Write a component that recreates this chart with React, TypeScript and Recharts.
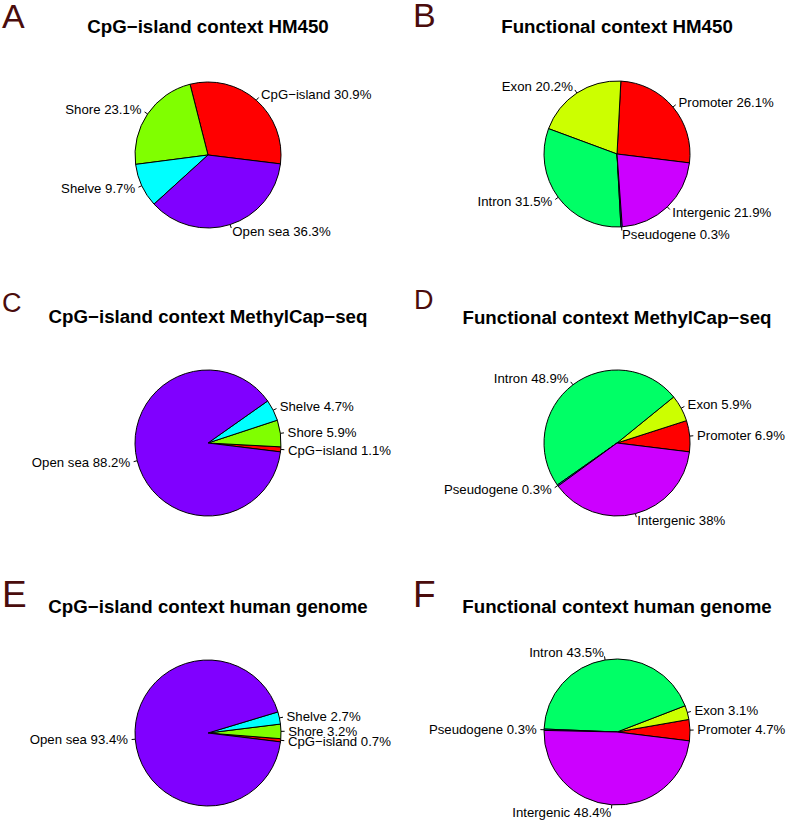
import React from 'react';
import { PieChart, Pie, Cell } from 'recharts';

// slice names and percentages
const cpgLabels = ['CpG−island', 'Shore', 'Shelve', 'Open sea'];
const cpgHM450 = [30.9, 23.1, 9.7, 36.3];
const cpgMethylCap = [1.1, 5.9, 4.7, 88.2];
const cpgGenome = [0.7, 3.2, 2.7, 93.4];

const funcLabels = ['Promoter', 'Exon', 'Intron', 'Pseudogene', 'Intergenic'];
const funcHM450 = [26.1, 20.2, 31.5, 0.3, 21.9];
const funcMethylCap = [6.9, 5.9, 48.9, 0.3, 38];
const funcGenome = [4.7, 3.1, 43.5, 0.3, 48.4];

// R rainbow(4) / rainbow(5)
const cpgColors = ['#FF0000', '#80FF00', '#00FFFF', '#8000FF'];
const funcColors = ['#FF0000', '#CCFF00', '#00FF66', '#0066FF', '#CC00FF'];

const toRows = (labels: string[], values: number[]) =>
  labels.map((name, i) => ({ name, value: values[i] }));

const FONT = '"Liberation Sans", Arial, Helvetica, sans-serif';
const RADIUS = 73;

const panels = [
  { key: 'A', title: 'CpG−island context HM450', rows: toRows(cpgLabels, cpgHM450), colors: cpgColors,
    cx: 208, cy: 155, titleY: 33, letterX: 2, letterY: 28, letterSize: 34 },
  { key: 'B', title: 'Functional context HM450', rows: toRows(funcLabels, funcHM450), colors: funcColors,
    cx: 617, cy: 154, titleY: 33, letterX: 413, letterY: 27, letterSize: 34 },
  { key: 'C', title: 'CpG−island context MethylCap−seq', rows: toRows(cpgLabels, cpgMethylCap), colors: cpgColors,
    cx: 208, cy: 443, titleY: 323, letterX: 2, letterY: 312, letterSize: 27 },
  { key: 'D', title: 'Functional context MethylCap−seq', rows: toRows(funcLabels, funcMethylCap), colors: funcColors,
    cx: 617, cy: 443, titleY: 324, letterX: 414, letterY: 309, letterSize: 27 },
  { key: 'E', title: 'CpG−island context human genome', rows: toRows(cpgLabels, cpgGenome), colors: cpgColors,
    cx: 208, cy: 733, titleY: 613, letterX: 2, letterY: 607, letterSize: 37 },
  { key: 'F', title: 'Functional context human genome', rows: toRows(funcLabels, funcGenome), colors: funcColors,
    cx: 617, cy: 732, titleY: 613, letterX: 413, letterY: 607, letterSize: 37 },
];

// R-style pie label: tick from r to 1.05r, text at 1.1r
const renderLabel = (props: any) => {
  const { cx, cy, midAngle, outerRadius, name, value } = props;
  const a = (-midAngle * Math.PI) / 180;
  const c = Math.cos(a);
  const s = Math.sin(a);
  return (
    <g>
      <line
        x1={cx + outerRadius * c}
        y1={cy + outerRadius * s}
        x2={cx + outerRadius * 1.05 * c}
        y2={cy + outerRadius * 1.05 * s}
        stroke="#000"
        strokeWidth={1}
      />
      <text
        x={cx + outerRadius * 1.1 * c}
        y={cy + outerRadius * 1.1 * s}
        textAnchor={c >= 0 ? 'start' : 'end'}
        dominantBaseline="central"
        fontFamily={FONT}
        fontSize={13.2}
        fill="#000"
      >
        {`${name} ${value}%`}
      </text>
    </g>
  );
};

export default function App() {
  return (
    <div style={{ position: 'absolute', left: 0, top: 0, width: 787, height: 821, background: '#fff' }}>
      <PieChart width={787} height={821} margin={{ top: 0, right: 0, bottom: 0, left: 0 }}>
        {panels.map((p) => (
          <Pie
            key={p.key}
            data={p.rows}
            dataKey="value"
            nameKey="name"
            cx={p.cx}
            cy={p.cy}
            outerRadius={RADIUS}
            startAngle={-7}
            endAngle={353}
            stroke="#000"
            strokeWidth={1}
            label={renderLabel}
            labelLine={false}
            isAnimationActive={false}
          >
            {p.rows.map((_r, i) => (
              <Cell key={`${p.key}-${i}`} fill={p.colors[i % p.colors.length]} />
            ))}
          </Pie>
        ))}
      </PieChart>
      <svg width={787} height={821} style={{ position: 'absolute', left: 0, top: 0, pointerEvents: 'none' }}>
        {panels.map((p) => (
          <g key={p.key}>
            <text x={p.letterX} y={p.letterY} fontFamily={FONT} fontSize={p.letterSize} fill="#4a0c0c">
              {p.key}
            </text>
            <text x={p.cx} y={p.titleY} textAnchor="middle" fontFamily={FONT} fontWeight="bold" fontSize={18.7} fill="#000">
              {p.title}
            </text>
          </g>
        ))}
      </svg>
    </div>
  );
}
